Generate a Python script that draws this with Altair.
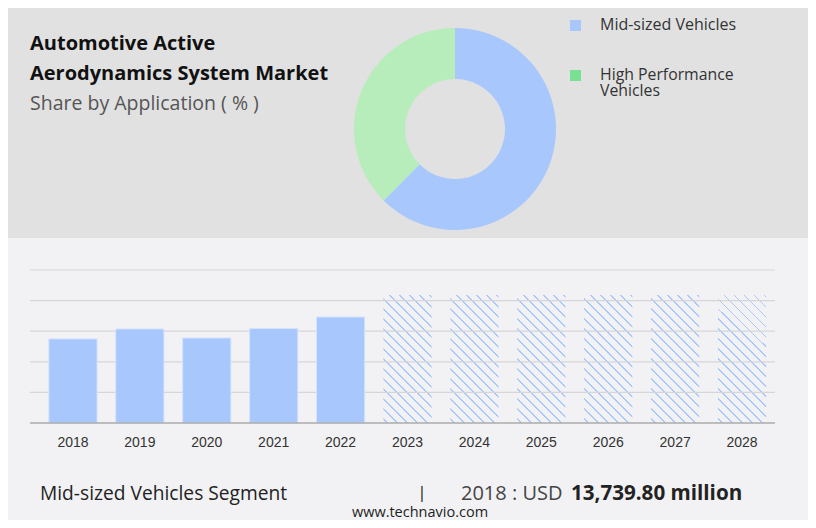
import altair as alt
import pandas as pd

# ---------------- data ----------------
categories = ["Mid-sized Vehicles", "High Performance Vehicles"]
shares = [62.5, 37.5]
donut_colors = ["#a8c8fd", "#b7edba"]
legend_line1 = ["Mid-sized Vehicles"]
legend_line2 = ["High Performance", "Vehicles"]
legend_swatches = ["#a8c8fd", "#78e192"]

years = ["2018", "2019", "2020", "2021", "2022", "2023", "2024", "2025", "2026", "2027", "2028"]
history_years = ["2018", "2019", "2020", "2021", "2022"]
history_values = [13739.8, 15360, 13890, 15440, 17320]
forecast_years = ["2023", "2024", "2025", "2026", "2027", "2028"]
forecast_values = [20900, 20900, 20900, 20900, 20900, 20900]
grid_values = [5000, 10000, 15000, 20000, 25000]

title_lines = ["Automotive Active", "Aerodynamics System Market"]
subtitle = "Share by Application ( % )"
footer_segment = "Mid-sized Vehicles Segment"
footer_sep = "|"
footer_year = "2018 : USD"
footer_value = "13,739.80 million"
footer_source = "www.technavio.com"

# ---------------- layout helpers (page px -> chart px) ----------------
OX, OY = 8, 8
def px(x):
    return x - OX
def py(y):
    return y - OY

W, H = 800, 512
TOP_BG = "#e1e1e1"
BOT_BG = "#f2f2f4"
BLUE = "#a8c8fd"
STRIPE = "#a9c8fb"

xs = alt.Scale(domain=years, range=[px(39.5), px(775.5)], paddingInner=0.28, paddingOuter=0.14)
ys = alt.Scale(domain=[0, 25000], range=[py(423), py(270)], nice=False, zero=True)

one = pd.DataFrame({"k": [0]})

# top panel background
top_bg = alt.Chart(one).mark_rect(color=TOP_BG).encode(
    x=alt.value(0), x2=alt.value(W), y=alt.value(0), y2=alt.value(py(238))
)

# donut
donut_df = pd.DataFrame({"category": categories, "share": shares, "idx": list(range(len(categories)))})
donut = alt.Chart(donut_df).mark_arc(innerRadius=50, outerRadius=101).encode(
    theta=alt.Theta("share:Q", stack=True),
    color=alt.Color("category:N", scale=alt.Scale(domain=categories, range=donut_colors), legend=None),
    order=alt.Order("idx:Q"),
    x=alt.value(px(455)),
    y=alt.value(py(129)),
)

# legend
sw_df = pd.DataFrame({"c": legend_swatches, "i": [0, 1]})
leg_sq1 = alt.Chart(sw_df.iloc[[0]]).mark_square(size=121, opacity=1).encode(
    fill=alt.Fill("c:N", scale=None), x=alt.value(px(575.5)), y=alt.value(py(25.5))
)
leg_sq2 = alt.Chart(sw_df.iloc[[1]]).mark_square(size=121, opacity=1).encode(
    fill=alt.Fill("c:N", scale=None), x=alt.value(px(575.5)), y=alt.value(py(75.5))
)
leg_t1 = alt.Chart(one).mark_text(
    text=legend_line1, align="left", baseline="alphabetic", font="Open Sans", fontSize=16, color="#333333"
).encode(x=alt.value(px(600)), y=alt.value(py(30)))
leg_t2 = alt.Chart(one).mark_text(
    text=legend_line2, align="left", baseline="alphabetic", font="Open Sans", fontSize=15.8, color="#333333",
    lineHeight=15.5
).encode(x=alt.value(px(600)), y=alt.value(py(80)))

# titles
title = alt.Chart(one).mark_text(
    text=title_lines, align="left", baseline="alphabetic", font="Open Sans", fontSize=20,
    fontWeight="bold", color="#111111", lineHeight=30
).encode(x=alt.value(px(30)), y=alt.value(py(50)))
sub = alt.Chart(one).mark_text(
    text=[subtitle], align="left", baseline="alphabetic", font="Open Sans", fontSize=19.5, color="#555555"
).encode(x=alt.value(px(30)), y=alt.value(py(110)))

# forecast bars (hatched) -- drawn first, gridlines show through
bw, bh = 48.2, 128.0
k = (bw + bh) / (bw * bw + bh * bh)
gx2, gy2 = k * bw, 1 - k * bh
period = 10.0 / (bw + bh)
lw = 1.6 / (bw + bh)
stops = [alt.GradientStop(color=BOT_BG, offset=0)]
t = 0.02
while t + lw < 1:
    stops.append(alt.GradientStop(color=BOT_BG, offset=round(t, 5)))
    stops.append(alt.GradientStop(color=STRIPE, offset=round(t, 5)))
    stops.append(alt.GradientStop(color=STRIPE, offset=round(t + lw, 5)))
    stops.append(alt.GradientStop(color=BOT_BG, offset=round(t + lw, 5)))
    t += period
stops.append(alt.GradientStop(color=BOT_BG, offset=1))
hatch = alt.LinearGradient(gradient="linear", stops=stops, x1=0, y1=1, x2=gx2, y2=gy2)

fc_df = pd.DataFrame({"year": forecast_years, "value": forecast_values})
fbars = alt.Chart(fc_df).mark_bar(fill=hatch).encode(
    x=alt.X("year:N", scale=xs, axis=None),
    y=alt.Y("value:Q", scale=ys, axis=None),
)

# grid + baseline
grid = alt.Chart(pd.DataFrame({"v": grid_values})).mark_rule(color="#d6d6d9", strokeWidth=1.2).encode(
    y=alt.Y("v:Q", scale=ys, axis=None), x=alt.value(px(30)), x2=alt.value(px(775))
)
base = alt.Chart(pd.DataFrame({"v": [0]})).mark_rule(color="#ababab", strokeWidth=1.5).encode(
    y=alt.Y("v:Q", scale=ys, axis=None), x=alt.value(px(30)), x2=alt.value(px(775))
)

# history bars
hist_df = pd.DataFrame({"year": history_years, "value": history_values})
bars = alt.Chart(hist_df).mark_bar(color=BLUE, stroke="#d3e2fd", strokeWidth=1).encode(
    x=alt.X("year:N", scale=xs, axis=None),
    y=alt.Y("value:Q", scale=ys, axis=None),
)

# year labels
ylab = alt.Chart(pd.DataFrame({"year": years})).mark_text(
    baseline="alphabetic", font="Liberation Sans", fontSize=14, color="#333333"
).encode(x=alt.X("year:N", scale=xs, axis=None, bandPosition=0.5), y=alt.value(py(447)), text="year:N")

# footer
ft = dict(baseline="alphabetic", font="Open Sans", color="#222222")
f1 = alt.Chart(one).mark_text(text=footer_segment, align="left", fontSize=19.2, **ft).encode(
    x=alt.value(px(40)), y=alt.value(py(500)))
f2 = alt.Chart(one).mark_text(text=footer_sep, align="center", fontSize=17, **ft).encode(
    x=alt.value(px(422)), y=alt.value(py(498)))
f3 = alt.Chart(one).mark_text(text=footer_year, align="left", fontSize=20, baseline="alphabetic",
                              font="Open Sans", color="#444444").encode(
    x=alt.value(px(461)), y=alt.value(py(500)))
f4 = alt.Chart(one).mark_text(text=footer_value, align="left", fontWeight="bold", fontSize=20.6, **ft).encode(
    x=alt.value(px(571)), y=alt.value(py(500)))
f5 = alt.Chart(one).mark_text(text=footer_source, align="center", baseline="alphabetic",
                              font="Open Sans", fontSize=14.5, color="#222222").encode(
    x=alt.value(px(420)), y=alt.value(py(516.5)))

chart = alt.layer(
    top_bg, donut, leg_sq1, leg_sq2, leg_t1, leg_t2, title, sub,
    fbars, grid, bars, base, ylab, f1, f2, f3, f4, f5
).properties(
    width=W, height=H, background=BOT_BG, padding=0,
    autosize=alt.AutoSizeParams(type="none")
).configure_view(stroke=None)

chart.save("out.html", embed_options={"renderer": "svg", "actions": False})
